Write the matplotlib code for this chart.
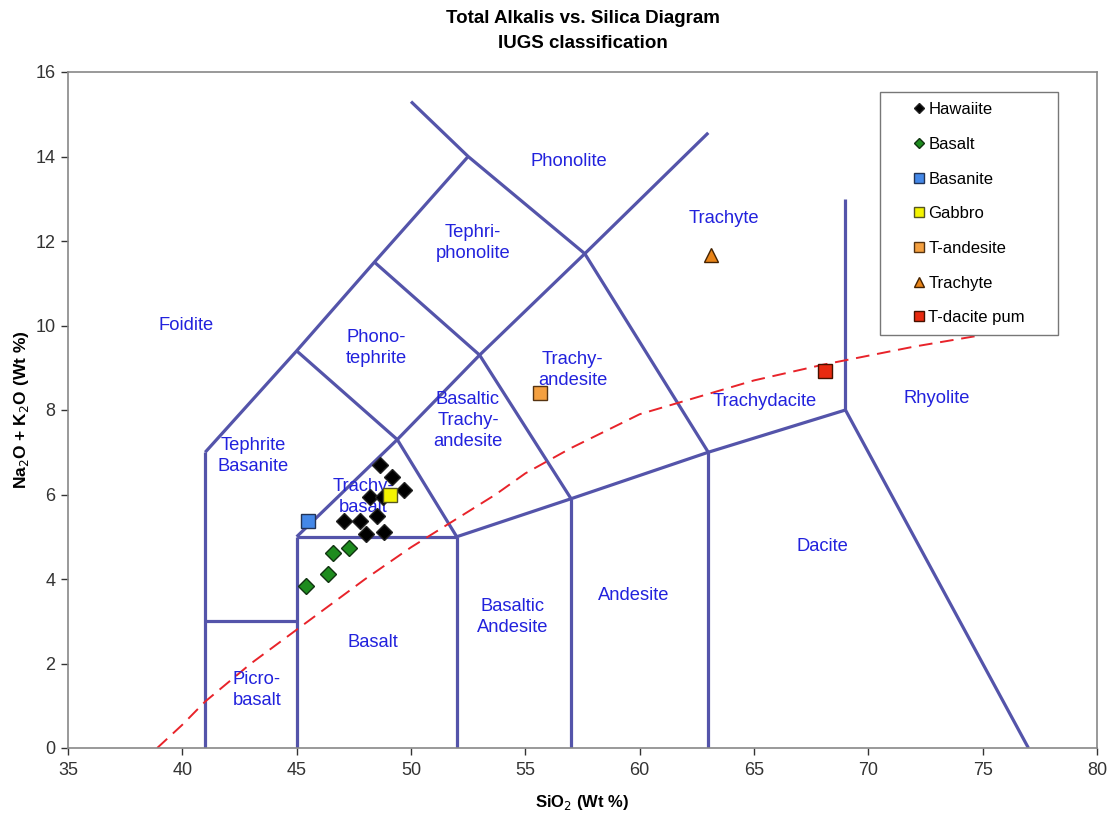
import matplotlib
matplotlib.use("Agg")
import matplotlib.pyplot as plt

plt.rcParams['font.family'] = ['Liberation Sans', 'DejaVu Sans']

# ---- data ----
hawaiite_x = [48.64, 49.17, 49.69, 48.21, 48.77, 48.51, 47.07, 47.77, 48.03, 48.82]
hawaiite_y = [6.70, 6.41, 6.11, 5.94, 5.94, 5.49, 5.37, 5.37, 5.07, 5.11]
basalt_x = [46.59, 47.29, 46.37, 45.41]
basalt_y = [4.62, 4.73, 4.12, 3.83]
basanite_x = [45.49]
basanite_y = [5.37]
gabbro_x = [49.08]
gabbro_y = [5.99]
tandesite_x = [55.64]
tandesite_y = [8.40]
trachyte_x = [63.12]
trachyte_y = [11.67]
tdacite_x = [68.10]
tdacite_y = [8.92]

# Alkaline / subalkaline divide (dashed)
divide_x = [38.9, 40.0, 41.0, 43.0, 45.0, 48.0, 50.0, 53.7, 55.0, 57.0, 60.0, 65.0, 68.0, 72.0, 75.8]
divide_y = [0.0, 0.55, 1.1, 2.0, 2.8, 4.0, 4.75, 6.0, 6.5, 7.1, 7.9, 8.7, 9.07, 9.5, 9.85]

# TAS field boundaries (segments as polylines)
boundaries = [
    ([41, 41], [0, 7]),
    ([41, 45], [3, 3]),
    ([45, 45], [0, 5]),
    ([45, 52], [5, 5]),
    ([52, 52], [0, 5]),
    ([57, 57], [0, 5.9]),
    ([63, 63], [0, 7]),
    ([52, 57, 63, 69], [5, 5.9, 7, 8]),
    ([69, 77], [8, 0]),
    ([69, 69], [8, 13]),
    ([41, 45, 48.4, 52.5], [7, 9.4, 11.5, 14]),
    ([50, 52.5, 57.6, 63], [15.3, 14, 11.7, 14.56]),
    ([45, 49.4, 52], [5, 7.3, 5]),
    ([45, 49.4, 53, 57.6, 63], [9.4, 7.3, 9.3, 11.7, 7]),
    ([48.4, 53, 57], [11.5, 9.3, 5.9]),
]

field_names = ["Foidite", "Phonolite", "Trachyte", "Tephri-\nphonolite", "Phono-\ntephrite",
               "Trachy-\nandesite", "Trachydacite", "Rhyolite", "Tephrite\nBasanite",
               "Basaltic\nTrachy-\nandesite", "Trachy-\nbasalt", "Dacite", "Basaltic\nAndesite",
               "Andesite", "Basalt", "Picro-\nbasalt"]
field_x = [40.16, 56.9, 63.68, 52.71, 48.47, 57.08, 65.48, 73.0, 43.09, 52.49, 47.9, 68.01, 54.46, 59.75, 48.34, 43.26]
field_y = [9.99, 13.87, 12.54, 11.95, 9.47, 8.95, 8.21, 8.28, 6.91, 7.76, 5.94, 4.76, 3.1, 3.6, 2.49, 1.37]

x_ticks = [35, 40, 45, 50, 55, 60, 65, 70, 75, 80]
y_ticks = [0, 2, 4, 6, 8, 10, 12, 14, 16]

# ---- figure ----
fig = plt.figure(figsize=(11.12, 8.15), dpi=100)
ax = fig.add_axes([68/1112, 67/815, (1097-68)/1112, (748-72)/815])

line_col = '#5454AA'
for bx, by in boundaries:
    ax.plot(bx, by, color=line_col, lw=2.3, solid_capstyle='butt', zorder=2)

ax.plot(divide_x, divide_y, color='#E8232A', lw=1.4, ls=(0, (7, 4)), zorder=2)

for name, fx, fy in zip(field_names, field_x, field_y):
    ax.text(fx, fy, name, color='#2222DD', fontsize=13.2, ha='center', va='center',
            linespacing=1.3, zorder=3)

ax.plot(hawaiite_x, hawaiite_y, 'D', color='black', mec='#222222', ms=8, ls='none', label='Hawaiite', zorder=4)
ax.plot(basalt_x, basalt_y, 'D', color='#1E8C1E', mec='#113311', ms=8, ls='none', label='Basalt', zorder=4)
ax.plot(basanite_x, basanite_y, 's', color='#4488E8', mec='#223355', ms=9.5, ls='none', label='Basanite', zorder=4)
ax.plot(gabbro_x, gabbro_y, 's', color='#F4F400', mec='#555522', ms=9.5, ls='none', label='Gabbro', zorder=4)
ax.plot(tandesite_x, tandesite_y, 's', color='#F4A040', mec='#553311', ms=9.5, ls='none', label='T-andesite', zorder=4)
ax.plot(trachyte_x, trachyte_y, '^', color='#E88418', mec='#442200', ms=10, ls='none', label='Trachyte', zorder=4)
ax.plot(tdacite_x, tdacite_y, 's', color='#E82A10', mec='#441100', ms=9.5, ls='none', label='T-dacite pum', zorder=4)

ax.set_xlim(35, 80)
ax.set_ylim(0, 16)
ax.set_xticks(x_ticks)
ax.set_yticks(y_ticks)
ax.tick_params(axis='both', labelsize=13, colors='#333333', length=5, width=1)
ax.tick_params(axis='x', pad=5)
ax.tick_params(axis='y', pad=4)
for s in ax.spines.values():
    s.set_color('#888888')
    s.set_linewidth(1.2)

ax.set_xlabel('SiO$_2$ (Wt %)', fontsize=12, fontweight='bold')
ax.xaxis.set_label_coords(0.5, -0.066)
ax.set_ylabel('Na$_2$O + K$_2$O (Wt %)', fontsize=12.5, fontweight='bold')
ax.yaxis.set_label_coords(-0.036, 0.5)
fig.text(0.524, 0.988, 'Total Alkalis vs. Silica Diagram\nIUGS classification', ha='center', va='top',
         fontsize=13.5, fontweight='bold', linespacing=1.65)

leg = ax.legend(loc='upper left', bbox_to_anchor=(0.789, 0.5, 0.173, 0.470), mode='expand',
                borderaxespad=0, fancybox=False, edgecolor='#777777', framealpha=1, fontsize=12,
                labelspacing=1.18, handletextpad=-1.2, handlelength=3.5,
                borderpad=0.6, markerscale=0.7)
leg.get_frame().set_linewidth(1.0)

fig.savefig('out.png', dpi=100)
